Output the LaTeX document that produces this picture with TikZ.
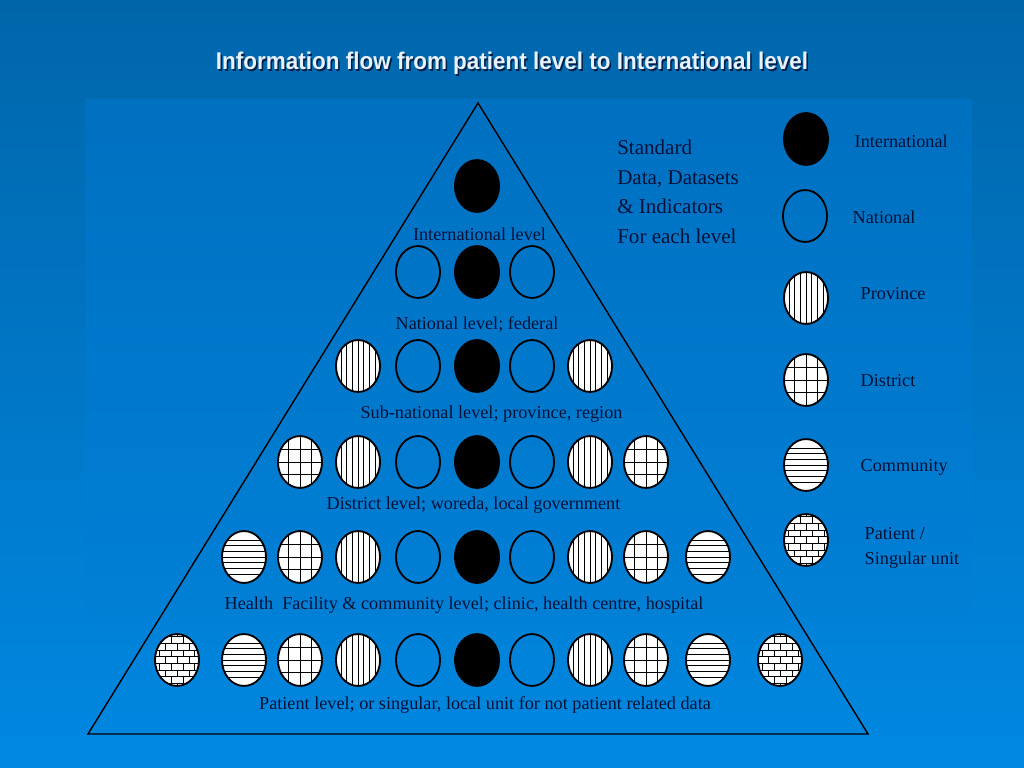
\documentclass[tikz,border=0pt]{standalone}
\usepackage{fontspec}
\setmainfont{Liberation Serif}
\newfontfamily\titlefont{Liberation Sans}[FakeStretch=0.93]
\usepackage{tikz}
\usetikzlibrary{shapes.geometric,positioning}
\definecolor{bgtop}{RGB}{0,102,170}
\definecolor{bgbot}{RGB}{0,136,226}
\definecolor{paneltop}{RGB}{0,112,192}
\definecolor{panelbot}{RGB}{0,128,214}
\definecolor{ink}{RGB}{0,18,56}
\definecolor{titlecol}{RGB}{232,242,255}
\definecolor{shadowcol}{RGB}{0,30,70}
\tikzset{
  lvl/.style={ellipse, draw=black, line width=1.3pt, inner sep=0pt,
    minimum width=31pt, minimum height=36.5pt},
  patline/.style={black, line width=0.6pt},
  intl/.style={lvl, fill=black},
  nat/.style={lvl},
  prov/.style={lvl, fill=white, path picture={
      \foreach \dx in {-12,-8,-4,0,4,8,12}
        \draw[patline] ([xshift=\dx pt,yshift=20pt]path picture bounding box.center) -- ++(0,-40pt);}},
  dist/.style={lvl, fill=white, path picture={
      \foreach \dx in {-8,0,8}
        \draw[patline] ([xshift=\dx pt,yshift=20pt]path picture bounding box.center) -- ++(0,-40pt);
      \foreach \dy in {-9,0,9}
        \draw[patline] ([xshift=-20pt,yshift=\dy pt]path picture bounding box.center) -- ++(40pt,0);}},
  comm/.style={lvl, fill=white, path picture={
      \foreach \dy in {-12,-8,-4,0,4,8,12}
        \draw[patline] ([xshift=-20pt,yshift=\dy pt]path picture bounding box.center) -- ++(40pt,0);}},
  patient/.style={lvl, fill=white, path picture={
      \foreach \r in {0,...,8}{
        \pgfmathsetmacro\yy{-21.15+\r*4.7}
        \pgfmathsetmacro\off{mod(\r,2)*4.2}
        \draw[patline] ([xshift=-20pt,yshift=\yy pt]path picture bounding box.center) -- ++(40pt,0);
        \foreach \c in {-2,...,2}{
          \pgfmathsetmacro\xx{\c*8.4+\off}
          \draw[patline] ([xshift=\xx pt,yshift=\yy pt]path picture bounding box.center) -- ++(0,4.7pt);}
      }}},
  lbl/.style={text=ink, font=\fontsize{12.8}{15}\selectfont, inner sep=1pt},
  key/.style={lbl, anchor=west}
}

\begin{document}
\begin{tikzpicture}[x=0.703125pt, y=-0.703125pt]
  % Background and panel
  \fill[top color=bgtop, bottom color=bgbot] (0,0) rectangle (1024,768);
  \fill[top color=paneltop, bottom color=panelbot] (85,100) rectangle (972,625);
  \useasboundingbox (0,0) rectangle (1024,768);
  % Title
  \node[text=shadowcol, font=\titlefont\bfseries\fontsize{17}{20}\selectfont] (titleshadow) at (513.5,65) {Information flow from patient level to International level};
  \node[text=titlecol, font=\titlefont\bfseries\fontsize{17}{20}\selectfont] (title) at (512,63) {Information flow from patient level to International level};
  % Pyramid
  \coordinate (apex) at (478,103);
  \coordinate (baseL) at (88,734);
  \coordinate (baseR) at (868,734);
  \draw[black, line width=1pt] (apex) -- (baseL) -- (baseR) -- cycle;
  % Rows of units
  \node[intl] (r1c1) at (477,186) {};
  \foreach \x/\kind [count=\i] in {418/nat,477/intl,532/nat}
    \node[\kind] (r2c\i) at (\x,272) {};
  \foreach \x/\kind [count=\i] in {358/prov,418/nat,477/intl,532/nat,590/prov}
    \node[\kind] (r3c\i) at (\x,366) {};
  \foreach \x/\kind [count=\i] in {300/dist,358/prov,418/nat,477/intl,532/nat,590/prov,646/dist}
    \node[\kind] (r4c\i) at (\x,462) {};
  \foreach \x/\kind [count=\i] in {244/comm,300/dist,358/prov,418/nat,477/intl,532/nat,590/prov,646/dist,708/comm}
    \node[\kind] (r5c\i) at (\x,557) {};
  \foreach \x/\kind [count=\i] in {177/patient,244/comm,300/dist,358/prov,418/nat,477/intl,532/nat,590/prov,646/dist,708/comm,780/patient}
    \node[\kind] (r6c\i) at (\x,660) {};
  % Level labels
  \node[lbl] (lblIntl) at (479.5,234) {International level};
  \node[lbl] (lblNat) at (477,324) {National level; federal};
  \node[lbl] (lblSub) at (491.5,414) {Sub-national level; province, region};
  \node[lbl] (lblDist) at (473.5,505) {District level; woreda, local government};
  \node[lbl] (lblHealth) at (464,605) {Health\ \ Facility \& community level; clinic, health centre, hospital};
  \node[lbl] (lblPatient) at (485,705) {Patient level; or singular, local unit for not patient related data};
  % Standards note
  \node[text=ink, font=\fontsize{14.8}{20.7}\selectfont, align=left, anchor=north west, inner sep=0pt]
    (standard) at (617,140) {Standard\\Data, Datasets\\\& Indicators\\For each level};
  % Legend
  \node[intl] (keyIntl) at (806,139) {};
  \node[nat] (keyNat) at (805,216) {};
  \node[prov] (keyProv) at (806,298) {};
  \node[dist] (keyDist) at (806,380) {};
  \node[comm] (keyComm) at (806,465) {};
  \node[patient] (keyPatient) at (806,540) {};
  \node[key] at (853,141) {International};
  \node[key] at (851,217) {National};
  \node[key] at (859,294) {Province};
  \node[key] at (859,381) {District};
  \node[key] at (859,467) {Community};
  \node[key, align=left, font=\fontsize{12.8}{18}\selectfont] at (863,548) {Patient /\\Singular unit};
\end{tikzpicture}
\end{document}
